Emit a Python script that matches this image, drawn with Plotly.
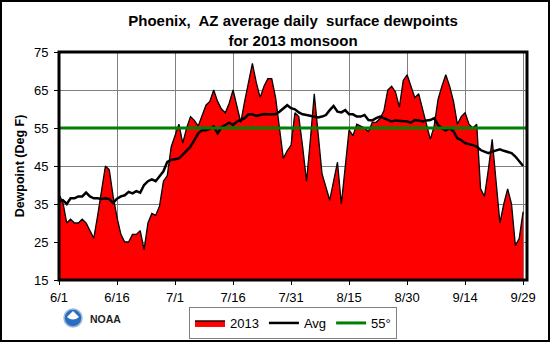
import plotly.graph_objects as go

# Day index 0 = 6/1 ... 120 = 9/29
dew_2013 = [37.5, 35.5, 30, 31, 30, 30, 31, 30, 28, 26,
            32, 39, 45, 44, 37, 31.5, 27, 25, 25, 27,
            27, 28, 23, 30, 32.5, 32, 34.5, 41, 42.5, 50,
            53, 56, 51, 55, 58, 57, 55.5, 58, 61, 62,
            65, 62, 60, 59, 61.5, 65, 61, 56.5, 62, 67,
            72, 67, 63, 66, 68, 68, 63, 55, 47, 49,
            50.5, 59, 58, 50, 41, 52, 64, 53.5, 43, 39.5,
            36, 41, 46, 35, 45, 54.5, 53, 56, 55.5, 55,
            54, 56.5, 56.5, 57.5, 59.5, 65, 66, 64.5, 60.5, 67.5,
            69, 66, 63, 64, 60, 56, 52, 55.5, 62.5, 66,
            69, 66, 62, 56, 58, 59, 56, 55, 56, 39,
            37, 44, 52, 41, 30, 35, 39, 35, 24, 26,
            33]
dew_avg = [35.6, 36, 35, 36.5, 36.5, 37, 37, 38, 37, 36.5,
           36.5, 36.3, 36.5, 36.3, 35.3, 36.4, 37, 37.3, 38.2, 37.8,
           38.4, 38, 40, 41, 41.5, 41, 42.3, 43.6, 46.1, 46.6,
           46.8, 47, 48, 49.2, 50.1, 51.8, 53.6, 54.4, 54.4, 54.8,
           55.4, 53.6, 55.2, 55.8, 56.4, 55.8, 56.7, 57.1, 57.6, 58.6,
           58.6, 58.2, 58.4, 58.7, 58.6, 58.6, 58.6, 59.3, 60.2, 61,
           60.2, 59.9, 59.1, 58.6, 58.4, 58.2, 58, 57.8, 58, 58.4,
           59.7, 60.8, 59.3, 59.1, 59.7, 58.6, 58.6, 58, 58, 58.4,
           57.1, 57, 57.6, 58, 57.6, 57.1, 56.7, 57, 56.9, 56.7,
           56.7, 56.4, 57.1, 57, 56.7, 57, 57.1, 57.6, 55.8, 54.9,
           54.4, 54.9, 54.1, 52.3, 51.8, 51, 50.8, 50.5, 50.1, 49.2,
           48.8, 48.4, 48.8, 49.2, 49.4, 49, 48.8, 48.4, 47.5, 46.1,
           45]
threshold = 55
tick_days = [0, 15, 30, 45, 60, 75, 90, 105, 120]
tick_labels = ["6/1", "6/16", "7/1", "7/16", "7/31", "8/15", "8/30", "9/14", "9/29"]
y_ticks = [15, 25, 35, 45, 55, 65, 75]

days = list(range(len(dew_2013)))
FONT = "Arial, Liberation Sans, sans-serif"
W, H = 550, 342
L, R, T, B = 59, 527, 52, 280
PW, PH = R - L, B - T


def px(x):
    return (x - L) / PW


def py(y):
    return (B - y) / PH


fig = go.Figure()
fig.add_trace(go.Scatter(x=days, y=dew_2013, name="2013", mode="lines",
                         fill="tozeroy", fillcolor="#FF0000",
                         line=dict(color="black", width=1.3)))
fig.add_trace(go.Scatter(x=days, y=dew_avg, name="Avg", mode="lines",
                         line=dict(color="black", width=2.5)))
fig.add_trace(go.Scatter(x=[0, 121], y=[threshold, threshold], name="55°", mode="lines",
                         line=dict(color="#008000", width=3)))

fig.update_layout(
    width=W, height=H,
    margin=dict(l=L, r=W - R, t=T, b=H - B, autoexpand=False),
    paper_bgcolor="white", plot_bgcolor="white",
    font=dict(family=FONT, size=13, color="black"),
    title=dict(text="<b>Phoenix,  AZ average daily  surface dewpoints<br>for 2013 monsoon</b>",
               x=(L + R) / 2 / W, xanchor="center", xref="container",
               y=1 - 26 / H, yanchor="top", yref="container",
               font=dict(size=15, family=FONT)),
    showlegend=True,
    legend=dict(orientation="h", x=(L + R) / 2 / W, xanchor="center", xref="container",
                y=1 - 307 / H, yanchor="top", yref="container",
                bordercolor="#808080", borderwidth=1, bgcolor="white",
                font=dict(size=13, family=FONT), itemwidth=30,
                tracegroupgap=0),
)
fig.update_xaxes(range=[0, 121], tickvals=tick_days, ticktext=tick_labels,
                 showgrid=True, gridcolor="#7f7f7f", gridwidth=1,
                 ticks="outside", ticklen=4, tickcolor="black", ticklabelstandoff=1,
                 zeroline=False, showline=False, tickfont=dict(size=13), automargin=False)
fig.update_yaxes(range=[15, 75], tickvals=y_ticks,
                 showgrid=True, gridcolor="#7f7f7f", gridwidth=1,
                 ticks="outside", ticklen=4, tickcolor="black", ticklabelstandoff=3,
                 zeroline=False, showline=False, tickfont=dict(size=13), automargin=False,
                 title=dict(text="<b>Dewpoint (Deg F)</b>", font=dict(size=12.5), standoff=6))

# plot frame
fig.add_shape(type="rect", xref="paper", yref="paper", x0=0, x1=1, y0=0, y1=1,
              line=dict(color="black", width=3), layer="above")
# outer border
fig.add_shape(type="rect", xref="paper", yref="paper",
              x0=px(1), x1=px(549), y0=py(341), y1=py(1),
              line=dict(color="black", width=2))
# NOAA emblem
cx, cy, r = 73, 318, 9
fig.add_shape(type="circle", xref="paper", yref="paper",
              x0=px(cx - r), x1=px(cx + r), y0=py(cy + r), y1=py(cy - r),
              fillcolor="#2a6cc0", line=dict(color="#9fb8d8", width=1.5))
fig.add_shape(type="path", xref="paper", yref="paper",
              path=f"M {px(cx-6)},{py(cy-1)} Q {px(cx)},{py(cy+4)} {px(cx+6)},{py(cy-1)} "
                   f"L {px(cx)},{py(cy-7)} Z",
              fillcolor="white", line=dict(color="white", width=0))
fig.add_annotation(text="<b>NOAA</b>", xref="paper", yref="paper",
                   x=px(88), y=py(319), xanchor="left", yanchor="middle",
                   showarrow=False, font=dict(size=10.5, family=FONT, color="#222"))

fig.write_html("out.html")
